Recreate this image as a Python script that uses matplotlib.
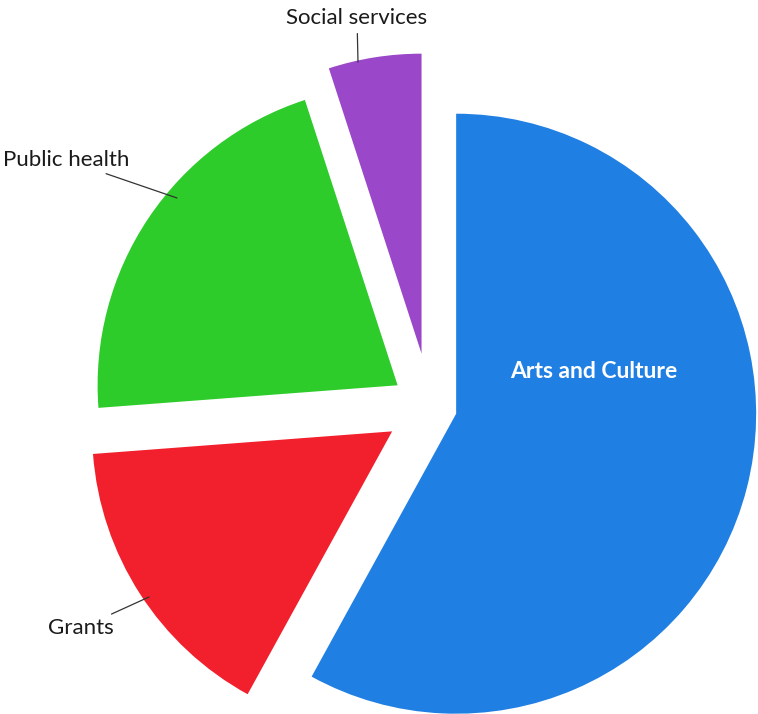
import matplotlib.pyplot as plt
import numpy as np

labels = ['Arts and Culture', 'Grants', 'Public health', 'Social services']
shares = [58, 15.8, 21.2, 5]
colors = ['#1f7fe3', '#f2202c', '#2dcc2a', '#9a48c9']
explode = [0.09, 0.15, 0.13, 0.18]

W, H = 758, 714
R = 300
CX, CY = 430, H - 407

plt.rcParams['font.family'] = ['Lato', 'DejaVu Sans']

fig = plt.figure(figsize=(W / 100, H / 100), dpi=100)
ax = fig.add_axes([0, 0, 1, 1])

wedges, _ = ax.pie(shares, colors=colors,
                   explode=[e * R for e in explode],
                   startangle=90, counterclock=False,
                   radius=R, center=(CX, CY),
                   wedgeprops=dict(linewidth=0))

ax.set_xlim(0, W)
ax.set_ylim(0, H)
ax.set_aspect('equal')
ax.axis('off')

# label inside the big slice
ax.text(594, H - 372, labels[0], color='white', fontsize=16.5,
        fontweight='bold', ha='center', va='center')

# outside labels with leader lines
txt_kw = dict(fontsize=16, color='#1a1a1a', va='center')
line_kw = dict(arrowstyle='-', color='#333333', lw=0.9,
               shrinkA=2, shrinkB=0)
ax.annotate(labels[3], xy=(358, H - 62), xytext=(357, H - 18),
            ha='center', arrowprops=line_kw, **txt_kw)
ax.annotate(labels[2], xy=(177, H - 198), xytext=(3, H - 160),
            ha='left', arrowprops=line_kw, **txt_kw)
ax.annotate(labels[1], xy=(149, H - 597), xytext=(48, H - 628),
            ha='left', arrowprops=line_kw, **txt_kw)

plt.savefig('out.png', dpi=100)
plt.close()
